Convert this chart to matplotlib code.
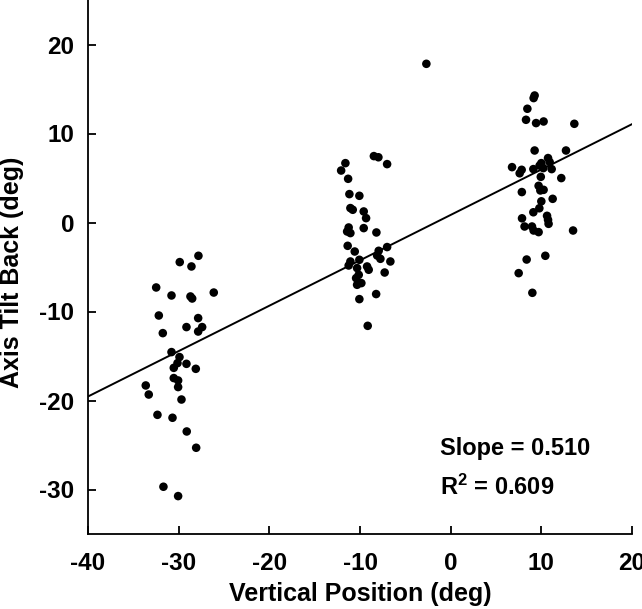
import numpy as np
import matplotlib
matplotlib.use("Agg")
import matplotlib.pyplot as plt

plt.rcParams['font.family'] = ['Liberation Sans', 'DejaVu Sans']
plt.rcParams['font.weight'] = 'bold'
plt.rcParams['axes.unicode_minus'] = False
plt.rcParams['mathtext.fontset'] = 'custom'
plt.rcParams['mathtext.bf'] = 'Liberation Sans:bold'
plt.rcParams['mathtext.rm'] = 'Liberation Sans:bold'
plt.rcParams['mathtext.default'] = 'bf'

# groupe a -30 deg
x_low = [-29.88, -28.59, -27.82, -32.48, -30.79, -28.70, -28.51, -26.13, -32.19, -27.85,
         -29.14, -31.75, -27.41, -27.85, -30.79, -29.91, -30.13, -29.14, -30.54, -28.11,
         -30.54, -30.06, -30.06, -33.63, -33.30, -29.69, -32.34, -30.68, -29.11, -28.07,
         -31.68, -30.06]
y_low = [-4.45, -4.94, -3.74, -7.30, -8.20, -8.31, -8.54, -7.87, -10.45, -10.74,
         -11.75, -12.43, -11.75, -12.25, -14.56, -15.12, -15.80, -15.88, -16.33, -16.44,
         -17.48, -17.75, -18.49, -18.31, -19.33, -19.89, -21.61, -21.94, -23.48, -25.31,
         -29.69, -30.74]

# groupe a -10 deg
x_mid = [-11.61, -12.08, -11.31, -8.47, -7.97, -7.01, -11.17, -10.07, -11.06, -10.80,
         -9.59, -9.33, -11.25, -11.06, -11.42, -9.59, -8.19, -11.36, -10.58, -7.01,
         -7.94, -8.11, -11.06, -11.25, -10.07, -7.75, -6.65, -10.32, -9.22, -9.04,
         -7.28, -10.14, -10.43, -10.32, -9.85, -8.22, -10.07, -9.15, -2.68]
y_mid = [6.67, 5.84, 4.91, 7.46, 7.33, 6.56, 3.19, 3.00, 1.62, 1.43,
         1.24, 0.49, -0.56, -1.19, -1.01, -0.63, -1.12, -2.62, -3.26, -2.76,
         -3.18, -3.71, -4.38, -4.83, -4.19, -4.08, -4.38, -5.12, -4.94, -5.31,
         -5.62, -5.88, -6.25, -7.00, -6.81, -8.04, -8.61, -11.61, 17.83]

# groupe a +10 deg
x_high = [9.26, 9.15, 8.46, 8.31, 9.42, 10.25, 13.64, 9.26, 12.72, 10.74,
          10.92, 10.00, 9.81, 6.77, 7.83, 7.61, 9.12, 10.22, 11.14, 9.94,
          12.20, 7.85, 9.70, 9.89, 10.25, 11.25, 10.00, 9.78, 9.12, 7.87,
          8.15, 10.63, 10.74, 10.80, 8.97, 9.15, 9.70, 13.50, 8.38, 10.44,
          7.50, 9.01]
y_high = [14.27, 13.98, 12.78, 11.54, 11.17, 11.35, 11.09, 8.09, 8.09, 7.24,
          6.79, 6.67, 6.40, 6.22, 5.92, 5.53, 6.00, 6.11, 6.00, 5.13,
          4.99, 3.42, 4.12, 3.60, 3.67, 2.66, 2.38, 1.60, 1.15, 0.47,
          -0.45, 0.75, 0.30, -0.15, -0.45, -0.90, -1.08, -0.90, -4.16, -3.74,
          -5.69, -7.90]

# reta de regressao
slope = 0.510
intercept = 0.85
r2 = 0.609
x_fit = np.array([-40, 20])

fig = plt.figure(figsize=(6.42, 6.09), dpi=100)
ax = fig.add_axes([88 / 642, 75 / 609, 544 / 642, 534 / 609])

for xs, ys in [(x_low, y_low), (x_mid, y_mid), (x_high, y_high)]:
    ax.scatter(xs, ys, s=38, color='black', edgecolors='none', zorder=3)

ax.plot(x_fit, slope * x_fit + intercept, color='black', lw=1.4)

ax.set_xlim(-40, 20)
ax.set_ylim(-35, 25)
ax.set_xticks([-40, -30, -20, -10, 0, 10, 20])
ax.set_yticks([-30, -20, -10, 0, 10, 20])

ax.spines['top'].set_visible(False)
ax.spines['right'].set_visible(False)
for s in ['left', 'bottom']:
    ax.spines[s].set_linewidth(1.3)

ax.tick_params(direction='in', length=6, width=1.3, labelsize=17.5)
ax.tick_params(axis='y', pad=10)
ax.tick_params(axis='x', pad=13)
for lab in ax.get_xticklabels() + ax.get_yticklabels():
    lab.set_fontweight('bold')

ax.set_xlabel('Vertical Position (deg)', fontsize=18, fontweight='bold')
ax.set_ylabel('Axis Tilt Back (deg)', fontsize=18, fontweight='bold')
ax.xaxis.set_label_coords(0.5, -0.09)
ax.yaxis.set_label_coords(-0.118, 0.49)

ax.text(0.647, 0.148, 'Slope = %.3f' % slope, transform=ax.transAxes,
        fontsize=17, fontweight='bold', va='baseline')
ax.text(0.647, 0.073, r'R$^2$ = %.3f' % r2, transform=ax.transAxes,
        fontsize=17, fontweight='bold', va='baseline')

fig.savefig('out.png', dpi=100)
